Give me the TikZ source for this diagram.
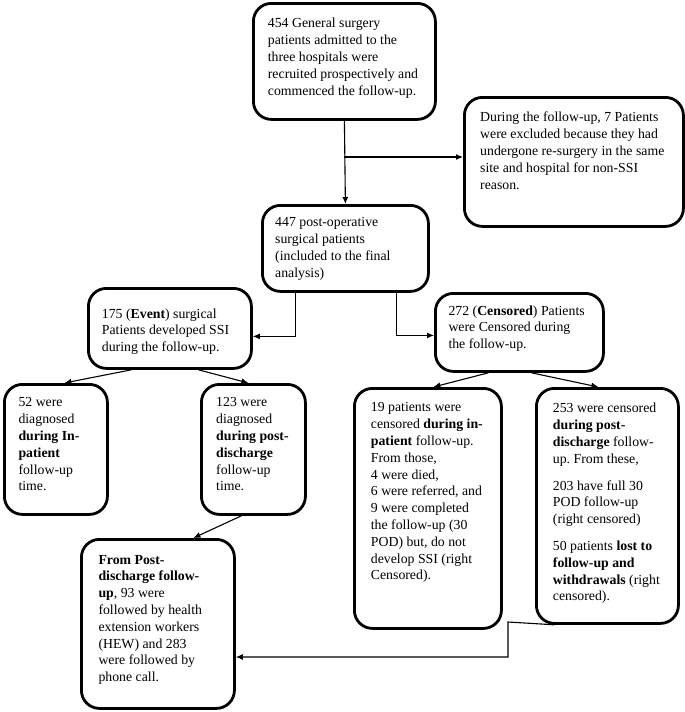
\documentclass[tikz,border=0pt]{standalone}
\usepackage{fontspec}
\setmainfont{Liberation Serif}
\usetikzlibrary{arrows.meta,calc}
\newcommand\diagfont{\fontsize{13.8pt}{16.8pt}\selectfont\frenchspacing}
\tikzset{
  box/.style={draw, line width=2.8pt, rounded corners=18pt, inner sep=0pt, anchor=north west},
  txt/.style={anchor=north west, inner sep=0pt, align=left, font=\diagfont},
  conn/.style={line width=1.1pt, -{Latex[length=7pt,width=6pt]}},
}
\begin{document}
\begin{tikzpicture}[x=1pt,y=-1pt]
\useasboundingbox[fill=white] (0,0) rectangle (685,712);
% boxes
\node[box, minimum width=182pt, minimum height=116pt] (A) at (252,2) {};
\node[box, minimum width=219pt, minimum height=129pt] (B) at (463,96) {};
\node[box, minimum width=166pt, minimum height=86pt] (C) at (261,204) {};
\node[box, minimum width=163pt, minimum height=80pt] (D) at (87,287) {};
\node[box, minimum width=168pt, minimum height=78pt] (E) at (434,292) {};
\node[box, minimum width=103pt, minimum height=130pt] (F) at (3,383) {};
\node[box, minimum width=104pt, minimum height=130pt] (G) at (200,383) {};
\node[box, minimum width=147pt, minimum height=240pt] (H) at (353,387) {};
\node[box, minimum width=142pt, minimum height=235pt] (I) at (535,387) {};
\node[box, minimum width=153pt, minimum height=169pt] (J) at (80,538) {};
% texts
\node[txt] (tA) at (267.7,15.9) {\strut 454 General surgery\\patients admitted to the\\three hospitals were\\recruited prospectively and\\commenced the follow-up.};
\node[txt] (tB) at (480,109.9) {\strut During the follow-up, 7 Patients\\were excluded because they had\\undergone re-surgery in the same\\site and hospital for non-SSI\\reason.};
\node[txt] (tC) at (275,214.9) {\strut 447 post-operative\\surgical patients\\(included to the final\\analysis)};
\node[txt] (tD) at (101.7,306.2) {\strut 175 (\textbf{Event}) surgical\\Patients developed SSI\\during the follow-up.};
\node[txt] (tE) at (448.3,303.2) {\strut 272 (\textbf{Censored}) Patients\\were Censored during\\the follow-up.};
\node[txt] (tF) at (18.3,394.9) {\strut 52 were\\diagnosed\\\textbf{during In-}\\\textbf{patient}\\follow-up\\time.};
\node[txt] (tG) at (216,394.9) {\strut 123 were\\diagnosed\\\textbf{during post-}\\\textbf{discharge}\\follow-up\\time.};
\node[txt] (tH) at (370.7,399.9) {\strut 19 patients were\\censored \textbf{during in-}\\\textbf{patient} follow-up.\\From those,\\4 were died,\\6 were referred, and\\9 were completed\\the follow-up (30\\POD) but, do not\\develop SSI (right\\Censored).};
\node[txt] (tI) at (552.7,400.9) {\strut 253 were censored\\\textbf{during post-}\\\textbf{discharge} follow-\\up. From these,\\[10pt]203 have full 30\\POD follow-up\\(right censored)\\[10pt]50 patients \textbf{lost to}\\\textbf{follow-up and}\\\textbf{withdrawals} (right\\censored).};
\node[txt] (tJ) at (98.3,552.2) {\strut\textbf{From Post-}\\\textbf{discharge follow-}\\\textbf{up}, 93 were\\followed by health\\extension workers\\(HEW) and 283\\were followed by\\phone call.};
% connectors
\draw[conn] (A.south) -- (C.north);
\coordinate (jB) at (343.5,157);
\draw[conn] (jB) -- (jB -| B.west);
\draw[conn] ([xshift=-50pt]C.south) |- ([yshift=-8pt]D.east);
\draw[conn] ([xshift=51pt]C.south) |- ([yshift=-3pt]E.west);
\draw[conn] ([xshift=-38.5pt]D.south) -- ([xshift=8.5pt]F.north);
\draw[conn] ([xshift=28.5pt]D.south) -- ([xshift=-5pt]G.north);
\draw[conn] ([xshift=-31pt]E.south) -- ([xshift=5.5pt]H.north);
\draw[conn] ([xshift=12pt]E.south) -- ([xshift=-9pt]I.north);
\draw[conn] ([xshift=-12pt]G.south) -- ([xshift=35.5pt]J.north);
\coordinate (k1) at (508,622);
\coordinate (k2) at (508,657);
\draw[conn] ([xshift=-53pt]I.south) -- (k1) -- (k2) -- (k2 -| J.east);
\end{tikzpicture}
\end{document}
